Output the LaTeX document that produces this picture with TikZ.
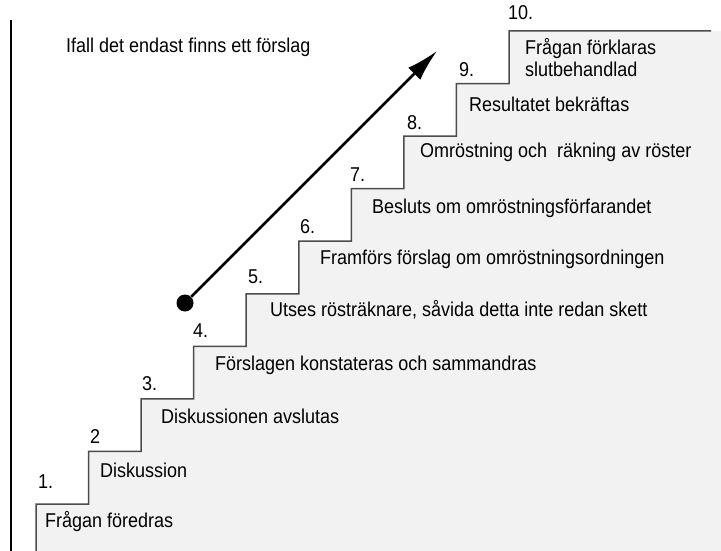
\documentclass[tikz,border=0pt]{standalone}
\usepackage{fontspec}
\setmainfont[FakeStretch=0.9]{Liberation Sans}
\usetikzlibrary{
    arrows.meta
}

\tikzset{
    lbl/.style={anchor=west, inner sep=0pt, text height=14pt, text depth=4.5pt,
        font=\fontsize{20}{22}\selectfont},
    stairline/.style={draw=black!70, line width=1.5pt},
    stairfill/.style={fill=black!5}
}

\begin{document}
\begin{tikzpicture}[x=1pt, y=-1pt]
            \useasboundingbox (0,0) rectangle (721,551);

            % Staircase
            \fill[stairfill] (36,551) -- (36,504)
                foreach \i in {1,...,9} { -- ++(52.56,0) -- ++(0,-52.56) }
                -- (721,31) -- (721,551) -- cycle;
            \draw[stairline] (36,551) -- (36,504)
                foreach \i in {1,...,9} { -- ++(52.56,0) -- ++(0,-52.56) }
                -- (711,31);

            % Left border
            \draw[line width=1.5pt] (11,20) -- (11,551);

            % Heading
            \node[lbl] (title) at (66,48) {Ifall det endast finns ett förslag};

            % Step numbers
            \node[lbl] (n1) at (38,484) {1.};
            \node[lbl] (n2) at (90,439) {2};
            \node[lbl] (n3) at (142,386) {3.};
            \node[lbl] (n4) at (193,333) {4.};
            \node[lbl] (n5) at (248,279) {5.};
            \node[lbl] (n6) at (300,229) {6.};
            \node[lbl] (n7) at (350,177) {7.};
            \node[lbl] (n8) at (407,125) {8.};
            \node[lbl] (n9) at (459,72) {9.};
            \node[lbl] (n10) at (508,15) {10.};

            % Step texts
            \node[lbl] (t1) at (45,523) {Frågan föredras};
            \node[lbl] (t2) at (100,473) {Diskussion};
            \node[lbl] (t3) at (161,419) {Diskussionen avslutas};
            \node[lbl] (t4) at (215,366) {Förslagen konstateras och sammandras};
            \node[lbl] (t5) at (270,312) {Utses rösträknare, såvida detta inte redan skett};
            \node[lbl] (t6) at (320,260) {Framförs förslag om omröstningsordningen};
            \node[lbl] (t7) at (372,209) {Besluts om omröstningsförfarandet};
            \node[lbl] (t8) at (420,153) {Omröstning och\ \ räkning av röster};
            \node[lbl] (t9) at (469,107) {Resultatet bekräftas};
            \node[lbl, anchor=north west, text height=, text depth=, align=left]
                (t10) at (525,38) {Frågan förklaras\\slutbehandlad};

            % Arrow
            \node[circle, fill=black, minimum size=17pt, inner sep=0pt] (start) at (185,303) {};
            \coordinate (goal) at (437,51);
            \draw[line width=2.5pt, -{Latex[length=32pt, width=17pt]}] (start) -- (goal);
          \end{tikzpicture}
\end{document}
